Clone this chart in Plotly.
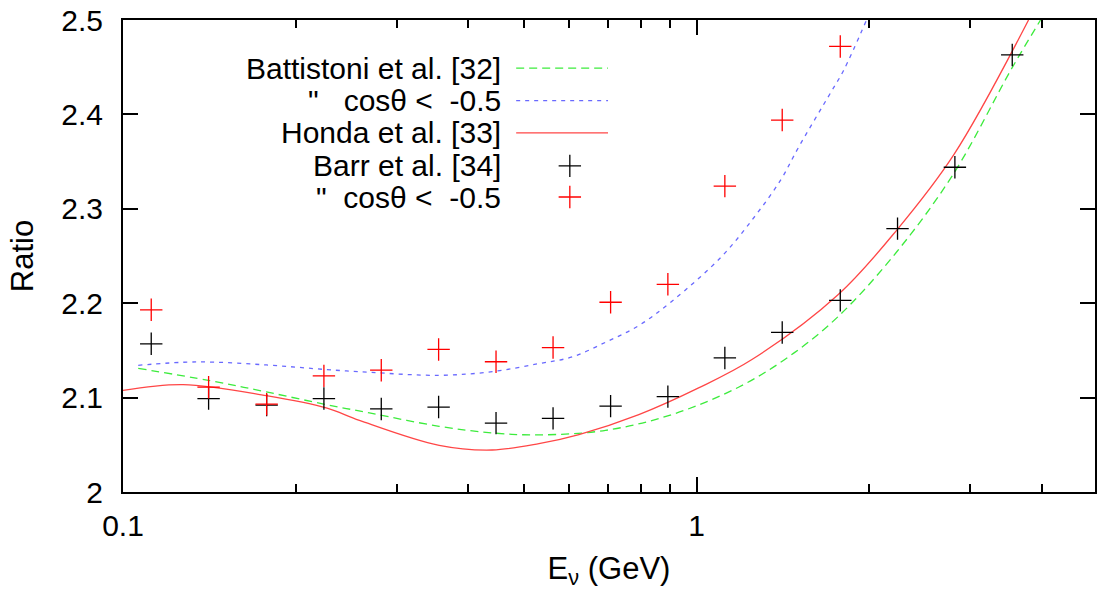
import plotly.graph_objects as go

# ---- data ----
E_pts = [0.112, 0.141, 0.178, 0.224, 0.282, 0.355, 0.447, 0.562, 0.708, 0.891,
         1.12, 1.41, 1.78, 2.24, 2.82, 3.55]
barr_all = [2.157, 2.099, 2.092, 2.099, 2.088, 2.090, 2.073, 2.078, 2.091, 2.101,
            2.142, 2.169, 2.203, 2.279, 2.344, 2.463]
barr_up = [2.193, 2.111, 2.093, 2.123, 2.129, 2.151, 2.138, 2.153, 2.201, 2.220,
           2.324, 2.394, 2.472]

E_batt = [0.1063, 0.1417, 0.1778, 0.2261, 0.2689, 0.3558, 0.4402, 0.531, 0.6937,
          0.9057, 1.183, 1.445, 1.766, 2.237, 2.81, 3.53, 3.977]
R_batt = [2.131, 2.118, 2.106, 2.0926, 2.0838, 2.0696, 2.0626, 2.0605, 2.0653,
          2.082, 2.111, 2.143, 2.186, 2.255, 2.338, 2.447, 2.5]

E_battup = [0.1063, 0.1343, 0.1778, 0.2261, 0.2689, 0.3558, 0.4405, 0.531, 0.6067,
            0.6937, 0.7929, 0.9057, 1.107, 1.264, 1.403, 1.504, 1.719, 1.802, 1.978]
R_battup = [2.1342, 2.1378, 2.1346, 2.1297, 2.1268, 2.1236, 2.1275, 2.136, 2.1431,
            2.1586, 2.1763, 2.2021, 2.2498, 2.2922, 2.3311, 2.3647, 2.4247, 2.446, 2.5]

E_honda = [0.1, 0.1273, 0.1778, 0.2261, 0.2583, 0.3558, 0.4402, 0.531, 0.6235,
           0.7929, 1.008, 1.2486, 1.766, 2.237, 2.81, 3.79]
R_honda = [2.1077, 2.1138, 2.1021, 2.0891, 2.0759, 2.0494, 2.0445, 2.0512, 2.0608,
           2.082, 2.1103, 2.1403, 2.2092, 2.278, 2.3576, 2.5]

legend_labels = ["Battistoni et al. [32]",
                 "\"\u00a0\u00a0\u00a0cos\u03b8 &lt;\u00a0\u00a0-0.5",
                 "Honda et al. [33]",
                 "Barr et al. [34]",
                 "\"\u00a0\u00a0cos\u03b8 &lt;\u00a0\u00a0-0.5"]

y_ticks = [2.0, 2.1, 2.2, 2.3, 2.4, 2.5]
y_tick_text = ["2", "2.1", "2.2", "2.3", "2.4", "2.5"]
x_ticks = [0.1, 1]
x_tick_text = ["0.1", "1"]
x_minor = [0.2, 0.3, 0.4, 0.5, 0.6, 0.7, 0.8, 0.9, 2, 3, 4]

GREEN = "rgb(60,235,60)"
BLUE = "rgb(105,105,255)"
RED_LINE = "rgb(255,70,70)"
RED_PT = "rgb(255,0,0)"
FONT = "Liberation Sans, Arial, sans-serif"
GREEN_DASH = "8px,5px"
BLUE_DASH = "4px,5px"

fig = go.Figure()
fig.add_trace(go.Scatter(x=E_batt, y=R_batt, mode="lines", line_shape="spline",
                         line=dict(color=GREEN, width=1.3, dash=GREEN_DASH)))
fig.add_trace(go.Scatter(x=E_battup, y=R_battup, mode="lines", line_shape="spline",
                         line=dict(color=BLUE, width=1.3, dash=BLUE_DASH)))
fig.add_trace(go.Scatter(x=E_honda, y=R_honda, mode="lines", line_shape="spline",
                         line=dict(color=RED_LINE, width=1.3)))
fig.add_trace(go.Scatter(x=E_pts, y=barr_all, mode="markers",
                         marker=dict(symbol="cross-thin", size=16,
                                     line=dict(color="black", width=1.3))))
fig.add_trace(go.Scatter(x=E_pts[:len(barr_up)], y=barr_up, mode="markers",
                         marker=dict(symbol="cross-thin", size=16,
                                     line=dict(color=RED_PT, width=1.3))))

# ---- manual legend (text right-aligned, key on the right as in the reference) ----
row_y = [0.898, 0.829, 0.761, 0.691, 0.625]
key_x0, key_x1, key_xm, text_x = 0.4045, 0.499, 0.4597, 0.390
key_styles = [(GREEN, GREEN_DASH), (BLUE, BLUE_DASH), (RED_LINE, "solid")]
for i, lab in enumerate(legend_labels):
    fig.add_annotation(x=text_x, y=row_y[i], xref="paper", yref="paper",
                       text=lab, showarrow=False, xanchor="right", yanchor="middle",
                       borderpad=0,
                       font=dict(family=FONT, size=30, color="black"))
for i, (c, d) in enumerate(key_styles):
    fig.add_shape(type="line", xref="paper", yref="paper",
                  x0=key_x0, x1=key_x1, y0=row_y[i], y1=row_y[i],
                  line=dict(color=c, width=1.3, dash=d))
fig.add_trace(go.Scatter(x=[key_xm, key_xm], y=[row_y[3], row_y[4]], mode="markers",
                         xaxis="x2", yaxis="y2",
                         marker=dict(symbol="cross-thin", size=16,
                                     line=dict(color=["black", RED_PT], width=1.3))))

axis_common = dict(showline=True, linecolor="black", linewidth=2, mirror="allticks",
                   ticks="inside", ticklen=15, tickwidth=2, tickcolor="black",
                   showgrid=False, zeroline=False,
                   tickfont=dict(family=FONT, size=30, color="black"))

fig.update_layout(
    width=1097, height=591,
    margin=dict(l=123, r=0, t=20, b=99),
    paper_bgcolor="white", plot_bgcolor="white",
    showlegend=False,
    font=dict(family=FONT, size=30, color="black"),
    xaxis=dict(type="log", range=[-1, 0.6945], tickmode="array",
               tickvals=x_ticks, ticktext=x_tick_text, ticklabelstandoff=6,
               minor=dict(ticks="inside", ticklen=8, tickwidth=2, tickcolor="black",
                          tickmode="array", tickvals=x_minor),
               title=dict(text="E<sub>\u03bd</sub> (GeV)", standoff=16,
                          font=dict(family=FONT, size=31, color="black")),
               **axis_common),
    yaxis=dict(range=[2, 2.5], tickmode="array", tickvals=y_ticks,
               ticktext=y_tick_text, ticklabelstandoff=12,
               title=dict(text="Ratio", standoff=18,
                          font=dict(family=FONT, size=31, color="black")),
               **axis_common),
    xaxis2=dict(overlaying="x", range=[0, 1], visible=False, fixedrange=True),
    yaxis2=dict(overlaying="y", range=[0, 1], visible=False, fixedrange=True),
)

fig.write_html("out.html")
